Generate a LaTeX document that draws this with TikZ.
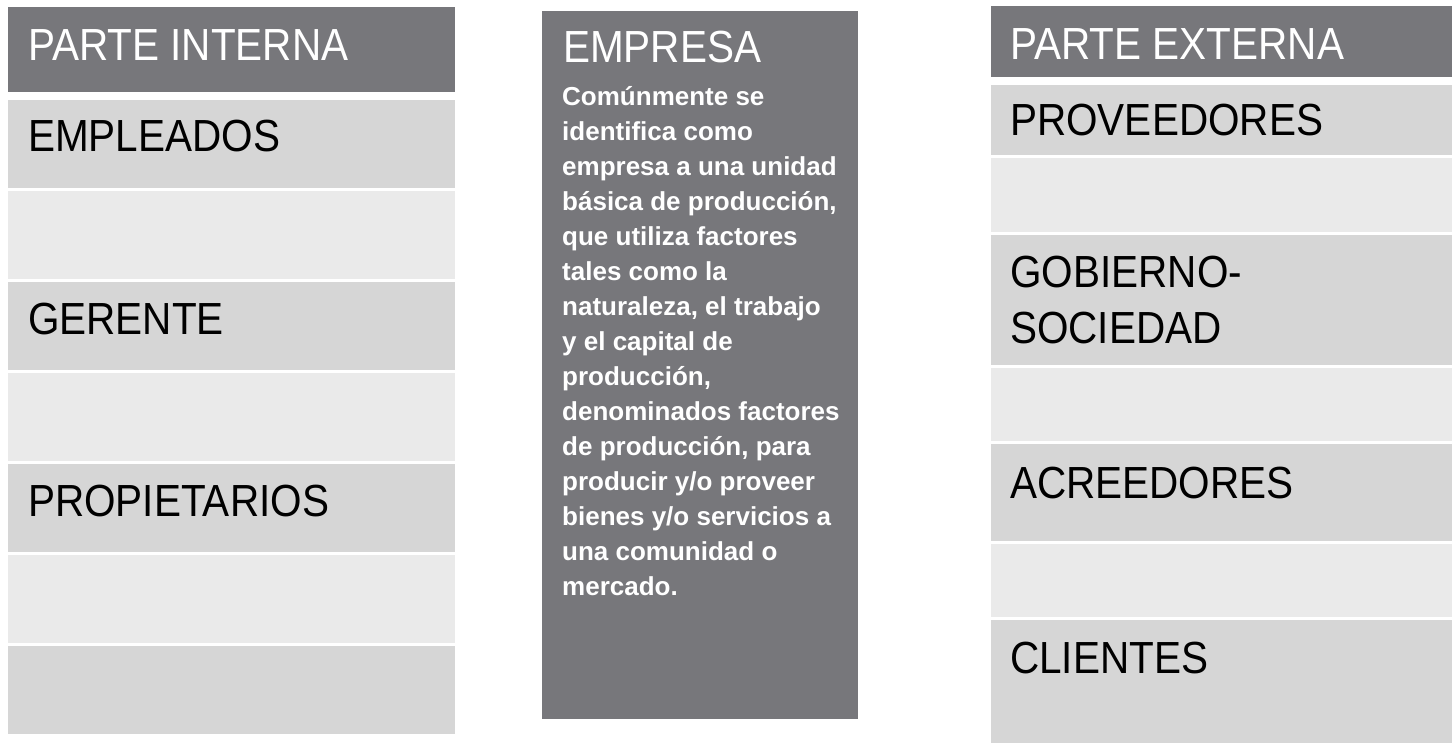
\documentclass[tikz,border=0pt]{standalone}
\usepackage{fontspec}
\setmainfont{Liberation Sans}
\newfontfamily\boxfont{Liberation Sans}[FakeStretch=0.9]
\usepackage{tikz}
\usetikzlibrary{positioning}
\definecolor{hdgray}{HTML}{77777B}
\definecolor{rowdark}{HTML}{D6D6D6}
\definecolor{rowlight}{HTML}{EAEAEA}

\begin{document}
\begin{tikzpicture}[
x=1pt, y=-1pt,
hdbox/.style={rectangle,
  fill=hdgray,
  inner sep=0pt,
  outer sep=0pt,
  minimum height=#1
},
darkrow/.style={rectangle,
  fill=rowdark,
  inner sep=0pt,
  outer sep=0pt,
  minimum height=#1
},
lightrow/.style={rectangle,
  fill=rowlight,
  inner sep=0pt,
  outer sep=0pt,
  minimum height=#1
},
leftcol/.style={minimum width=447pt},
midcol/.style={minimum width=316pt},
rightcol/.style={minimum width=461pt},
hdtext/.style={text=white,
  font=\boxfont\fontsize{45}{56}\selectfont,
  inner sep=0pt,
  anchor=base west
},
rowtext/.style={text=black,
  font=\boxfont\fontsize{45}{56}\selectfont,
  inner sep=0pt,
  anchor=base west
},
bodytext/.style={text=white,
  font=\bfseries\fontsize{26}{35}\selectfont,
  inner sep=0pt,
  align=left,
  anchor=north west
}
]
\useasboundingbox[fill=white] (0,0) rectangle (1455,743);

\node[hdbox=85pt, leftcol, anchor=north west] (inthd) at (8,7) {};
\node[darkrow=88pt, leftcol, below= 8pt of inthd] (empleados) {};
\node[lightrow=88pt, leftcol, below= 3pt of empleados] (intblanka) {};
\node[darkrow=88pt, leftcol, below= 3pt of intblanka] (gerente) {};
\node[lightrow=88pt, leftcol, below= 3pt of gerente] (intblankb) {};
\node[darkrow=88pt, leftcol, below= 3pt of intblankb] (propietarios) {};
\node[lightrow=88pt, leftcol, below= 3pt of propietarios] (intblankc) {};
\node[darkrow=88pt, leftcol, below= 3pt of intblankc] (intblankd) {};

\node[hdbox=708pt, midcol, anchor=north west] (empresa) at (542,11) {};

\node[hdbox=71pt, rightcol, anchor=north west] (exthd) at (991,6) {};
\node[darkrow=70pt, rightcol, below= 8pt of exthd] (proveedores) {};
\node[lightrow=74pt, rightcol, below= 3pt of proveedores] (extblanka) {};
\node[darkrow=130pt, rightcol, below= 3pt of extblanka] (gobierno) {};
\node[lightrow=73pt, rightcol, below= 3pt of gobierno] (extblankb) {};
\node[darkrow=97pt, rightcol, below= 3pt of extblankb] (acreedores) {};
\node[lightrow=73pt, rightcol, below= 3pt of acreedores] (extblankc) {};
\node[darkrow=123pt, rightcol, below= 3pt of extblankc] (clientes) {};

\node[hdtext] (inthdtxt) at ([shift={(20,54)}]inthd.north west) {PARTE INTERNA};
\node[rowtext] (empleadostxt) at ([shift={(20,52)}]empleados.north west) {EMPLEADOS};
\node[rowtext] (gerentetxt) at ([shift={(20,52)}]gerente.north west) {GERENTE};
\node[rowtext] (propietariostxt) at ([shift={(20,52)}]propietarios.north west) {PROPIETARIOS};

\node[hdtext] (empresatxt) at ([shift={(21,52)}]empresa.north west) {EMPRESA};
\node[bodytext] (empresadef) at ([shift={(20,75)}]empresa.north west)
    {Comúnmente se\\
    identifica como\\
    empresa a una unidad\\
    básica de producción,\\
    que utiliza factores\\
    tales como la\\
    naturaleza, el trabajo\\
    y el capital de\\
    producción,\\
    denominados factores\\
    de producción, para\\
    producir y/o proveer\\
    bienes y/o servicios a\\
    una comunidad o\\
    mercado.};

\node[hdtext] (exthdtxt) at ([shift={(19,54)}]exthd.north west) {PARTE EXTERNA};
\node[rowtext] (proveedorestxt) at ([shift={(19,51)}]proveedores.north west) {PROVEEDORES};
\node[rowtext, align=left, anchor=north west] (gobiernotxt) at ([shift={(19,21)}]gobierno.north west) {GOBIERNO-\\SOCIEDAD};
\node[rowtext] (acreedorestxt) at ([shift={(19,54)}]acreedores.north west) {ACREEDORES};
\node[rowtext] (clientestxt) at ([shift={(19,53)}]clientes.north west) {CLIENTES};
\end{tikzpicture}
\end{document}
